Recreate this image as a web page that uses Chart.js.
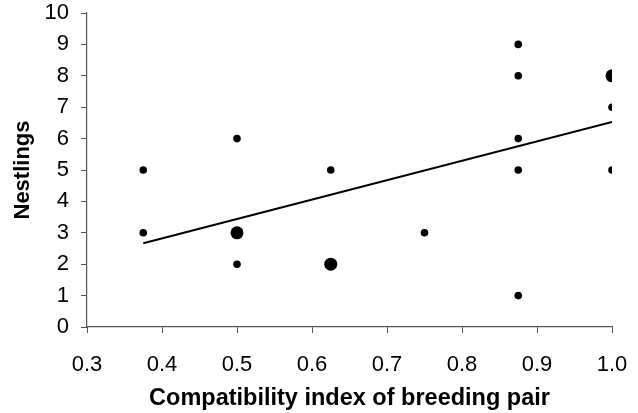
<!DOCTYPE html>
<html>
<head>
<meta charset="utf-8">
<script src="https://cdn.jsdelivr.net/npm/chart.js@4"></script>
<style>
  html, body { margin: 0; padding: 0; background: #fff; }
  #wrap { width: 638px; height: 413px; }
</style>
</head>
<body>
<div id="wrap"><canvas id="chart" width="638" height="413"></canvas></div>
<script>
// compatibility index of each pair and its nestling count
const compat    = [0.375, 0.375, 0.5, 0.5, 0.5, 0.625, 0.625, 0.75, 0.875, 0.875, 0.875, 0.875, 0.875, 1.0, 1.0, 1.0];
const nestlings = [5,     3,     6,   3,   2,   5,     2,     3,    9,     8,     6,     5,     1,     8,   7,   5];
// number of pairs sharing the same point (larger dot)
const pairs     = [1,     1,     1,   2,   1,   1,     2,     1,    1,     1,     1,     1,     1,     2,   1,   1];

// fitted regression line ends
const fitX = [0.375, 1.0];
const fitY = [2.67, 6.53];

const xTicks = [0.3, 0.4, 0.5, 0.6, 0.7, 0.8, 0.9, 1.0];

const font = { family: 'Liberation Sans, Arial, sans-serif', size: 22 };
const axisColor = '#555';

new Chart(document.getElementById('chart').getContext('2d'), {
  type: 'scatter',
  data: {
    datasets: [
      {
        label: 'Pairs',
        data: compat.map((x, i) => ({ x: x, y: nestlings[i] })),
        backgroundColor: '#000',
        borderWidth: 0,
        pointRadius: ctx => pairs[ctx.dataIndex] > 1 ? 6.5 : 3.8,
      },
      {
        label: 'Fit',
        type: 'line',
        data: fitX.map((x, i) => ({ x: x, y: fitY[i] })),
        borderColor: '#000',
        borderWidth: 2,
        pointRadius: 0,
        fill: false,
      },
    ],
  },
  options: {
    responsive: false,
    animation: false,
    layout: { padding: { left: 0, right: 26, top: 13, bottom: 0 } },
    plugins: { legend: { display: false }, tooltip: { enabled: false } },
    scales: {
      x: {
        type: 'linear',
        min: 0.3,
        max: 1.0,
        afterBuildTicks: axis => { axis.ticks = xTicks.map(v => ({ value: v })); },
        afterFit: axis => { axis.height = 86; axis.paddingLeft = 0; axis.paddingRight = 0; },
        grid: { drawOnChartArea: false, color: axisColor, tickLength: 6 },
        border: { color: axisColor, width: 1.2 },
        ticks: {
          color: '#000', font: font, padding: 19, maxRotation: 0,
          callback: v => v.toFixed(1),
        },
        title: {
          display: true,
          text: 'Compatibility index of breeding pair',
          color: '#000',
          font: { family: font.family, size: 23.5, weight: 'bold' },
          padding: { top: 8, bottom: 0 },
        },
      },
      y: {
        min: 0,
        max: 10,
        afterFit: axis => { axis.width = 87; axis.paddingTop = 0; axis.paddingBottom = 0; },
        grid: { drawOnChartArea: false, color: axisColor, tickLength: 6 },
        border: { color: axisColor, width: 1.2 },
        ticks: { stepSize: 1, color: '#000', font: font, padding: 12 },
        title: {
          display: true,
          text: 'Nestlings',
          color: '#000',
          font: { family: font.family, size: 22, weight: 'bold' },
          padding: { top: 10, bottom: 0 },
        },
      },
    },
  },
});
</script>
</body>
</html>
